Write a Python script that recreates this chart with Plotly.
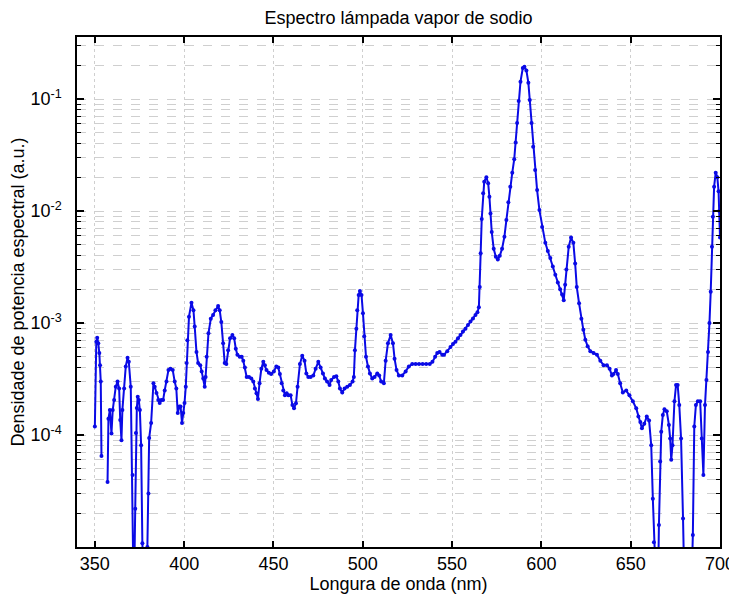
import plotly.graph_objects as go

# Wavelength (nm) and spectral power density (a.u.)
wavelength = [
    350.0, 350.8, 351.3, 351.9, 352.5, 352.9, 353.3, 353.7, 355.0, 357.1,
    357.6, 358.4, 359.3, 360.0, 360.8, 361.7, 362.7, 363.6, 364.2, 364.9,
    365.4, 366.4, 367.3, 368.3, 369.0, 370.1, 371.1, 371.8, 372.6, 373.0,
    373.5, 374.0, 374.6, 375.2, 375.9, 376.6, 377.5, 378.5, 379.4, 380.0,
    380.4, 381.5, 382.8, 383.5, 384.5, 385.5, 386.3, 387.2, 388.2, 389.1,
    390.1, 391.2, 392.3, 393.6, 394.7, 395.6, 396.4, 397.3, 398.0, 398.8,
    399.5, 400.2, 400.9, 401.4, 401.8, 402.7, 404.1, 405.2, 405.9, 406.9,
    407.8, 409.0, 409.8, 410.7, 411.5, 412.0, 412.6, 413.6, 414.9, 416.2,
    417.5, 419.0, 419.9, 420.8, 421.8, 422.7, 423.6, 424.6, 425.7, 427.0,
    428.0, 428.9, 429.8, 431.1, 432.2, 433.1, 434.0, 435.0, 436.3, 437.6,
    438.7, 439.6, 440.5, 441.3, 442.2, 443.2, 444.3, 445.2, 446.1, 447.4,
    448.7, 450.2, 451.6, 452.7, 453.6, 454.6, 455.5, 456.4, 457.4, 458.3,
    459.6, 460.6, 461.5, 462.6, 463.5, 464.8, 466.1, 467.4, 468.4, 469.5,
    470.8, 472.3, 473.6, 475.1, 476.4, 477.7, 478.8, 480.0, 481.4, 482.3,
    483.9, 485.2, 486.3, 487.2, 488.5, 489.8, 491.3, 492.8, 494.3, 495.0,
    495.6, 496.4, 496.9, 497.7, 498.4, 499.3, 500.1, 500.8, 501.8, 502.9,
    504.0, 505.3, 506.6, 508.1, 509.2, 510.3, 511.8, 512.8, 514.1, 515.6,
    516.9, 517.8, 518.9, 520.2, 522.1, 524.0, 525.8, 527.7, 529.6, 531.5,
    533.5, 535.5, 537.5, 539.0, 540.5, 541.7, 543.0, 544.5, 545.5, 547.3,
    549.1, 550.5, 551.9, 553.3, 554.7, 556.1, 557.5, 558.9, 560.3, 561.7,
    563.1, 564.2, 565.0, 565.5, 566.0, 566.6, 567.4, 568.0, 569.2, 570.2,
    570.9, 571.5, 572.2, 573.3, 574.5, 575.6, 576.7, 578.0, 579.3, 580.4,
    581.5, 582.6, 583.7, 584.8, 585.6, 586.4, 587.3, 588.3, 589.6, 590.5,
    591.6, 592.7, 593.5, 594.5, 595.4, 596.5, 597.6, 598.9, 600.4, 602.2,
    603.6, 605.0, 606.4, 607.8, 609.2, 610.5, 611.6, 612.5, 613.3, 614.0,
    615.3, 616.6, 617.9, 618.9, 619.8, 621.1, 622.4, 623.5, 624.6, 625.9,
    627.4, 629.2, 631.1, 633.0, 634.8, 636.7, 638.2, 639.5, 640.4, 641.8,
    642.8, 644.1, 645.6, 647.5, 649.3, 651.2, 653.1, 654.3, 655.4, 656.3,
    657.6, 659.0, 660.3, 661.5, 662.4, 663.0, 664.0, 665.0, 665.8, 666.5,
    667.1, 668.0, 668.9, 670.2, 671.4, 672.1, 672.7, 673.4, 674.5, 675.4,
    676.3, 677.2, 678.2, 679.3, 680.5, 682.0, 683.5, 684.8, 685.6, 686.5,
    687.6, 688.9, 689.8, 690.7, 691.6, 692.4, 693.3, 694.1, 694.8, 695.5,
    696.0, 696.7, 697.6, 698.5, 699.2, 699.6, 700.0,
]

power_density = [
    1.19e-4, 6.8e-4, 7.4e-4, 6.6e-4, 5.4e-4, 4.2e-4, 3.0e-4, 6.5e-5, None, 3.8e-5,
    1.4e-4, 1.67e-4, 1.03e-4, 1.67e-4, 2.05e-4, 2.7e-4, 3.0e-4, 2.6e-4, 1.36e-4, 9.0e-5,
    1.67e-4, 2.6e-4, 4.1e-4, 4.9e-4, 4.5e-4, 2.7e-4, 4.4e-5, 3e-6, 2.2e-5, 1.04e-4,
    1.74e-4, 2.2e-4, 2.05e-4, 1.67e-4, 8.1e-5, 1.08e-5, 2e-6, 2e-6, 1.0e-5, 3.0e-5,
    9.4e-5, 1.28e-4, 2.9e-4, 2.7e-4, 2.37e-4, 2.05e-4, 1.93e-4, 2.05e-4, 2.05e-4, 2.5e-4,
    3.0e-4, 3.8e-4, 3.9e-4, 3.8e-4, 3.0e-4, 2.6e-4, 1.57e-4, 1.8e-4, 1.8e-4, 1.28e-4,
    1.57e-4, 1.93e-4, 2.7e-4, 4.4e-4, 7.0e-4, 1.14e-3, 1.52e-3, 1.3e-3, 9.3e-4, 5.5e-4,
    4.4e-4, 4.2e-4, 3.7e-4, 3.2e-4, 2.7e-4, 3.3e-4, 5.0e-4, 8.1e-4, 1.09e-3, 1.18e-3,
    1.3e-3, 1.42e-3, 1.3e-3, 1.02e-3, 6.6e-4, 4.4e-4, 4.3e-4, 5.7e-4, 7.3e-4, 7.8e-4,
    7.3e-4, 5.9e-4, 5.2e-4, 5.0e-4, 5.0e-4, 4.6e-4, 4.0e-4, 3.3e-4, 3.3e-4, 3.2e-4,
    3.0e-4, 2.6e-4, 2.36e-4, 2.1e-4, 2.9e-4, 3.9e-4, 4.5e-4, 4.2e-4, 3.8e-4, 3.6e-4,
    3.5e-4, 3.7e-4, 4.1e-4, 4.0e-4, 3.5e-4, 2.9e-4, 2.5e-4, 2.27e-4, 2.36e-4, 2.27e-4,
    2.27e-4, 1.85e-4, 1.73e-4, 1.92e-4, 2.7e-4, 4.3e-4, 5.1e-4, 4.6e-4, 3.55e-4, 3.3e-4,
    3.3e-4, 3.4e-4, 3.9e-4, 4.5e-4, 4.0e-4, 3.55e-4, 3.2e-4, 3.0e-4, 2.8e-4, 3.1e-4,
    3.3e-4, 3.35e-4, 3.0e-4, 2.6e-4, 2.4e-4, 2.6e-4, 2.7e-4, 2.8e-4, 3.0e-4, 3.3e-4,
    5.7e-4, 8.9e-4, 1.3e-3, 1.78e-3, 1.93e-3, 1.78e-3, 1.22e-3, 7.6e-4, 5.0e-4, 4.1e-4,
    3.55e-4, 3.2e-4, 3.3e-4, 3.55e-4, 3.4e-4, 3.0e-4, 2.9e-4, 4.6e-4, 6.6e-4, 7.8e-4,
    6.6e-4, 4.8e-4, 3.8e-4, 3.4e-4, 3.4e-4, 3.7e-4, 4.1e-4, 4.3e-4, 4.3e-4, 4.3e-4,
    4.3e-4, 4.3e-4, 4.3e-4, 4.5e-4, 5.0e-4, 5.4e-4, 5.5e-4, 5.2e-4, 5.2e-4, 5.6e-4,
    6.1e-4, 6.5e-4, 6.8e-4, 7.3e-4, 7.8e-4, 8.4e-4, 8.9e-4, 9.6e-4, 1.03e-3, 1.1e-3,
    1.18e-3, 1.25e-3, 1.38e-3, 2.1e-3, 4.2e-3, 8.5e-3, 1.44e-2, 1.83e-2, 2.0e-2, 1.77e-2,
    1.34e-2, 9.5e-3, 6.5e-3, 4.6e-3, 3.9e-3, 3.7e-3, 3.98e-3, 4.6e-3, 5.9e-3, 8.3e-3,
    1.2e-2, 1.65e-2, 2.2e-2, 2.9e-2, 4.1e-2, 6.1e-2, 9.6e-2, 0.143, 0.189, 0.194,
    0.18, 0.14, 0.098, 0.061, 0.0375, 0.0232, 0.0154, 0.0102, 7.2e-3, 5.2e-3,
    4.4e-3, 3.8e-3, 3.2e-3, 2.7e-3, 2.3e-3, 2.0e-3, 1.8e-3, 1.6e-3, 2.2e-3, 3.0e-3,
    4.8e-3, 5.8e-3, 5.2e-3, 3.4e-3, 2.1e-3, 1.5e-3, 1.09e-3, 8.7e-4, 7.1e-4, 6.2e-4,
    5.6e-4, 5.4e-4, 5.2e-4, 4.6e-4, 4.2e-4, 4.2e-4, 3.9e-4, 3.4e-4, 3.5e-4, 3.8e-4,
    3.5e-4, 2.9e-4, 2.4e-4, 2.5e-4, 2.27e-4, 2.0e-4, 1.73e-4, 1.46e-4, 1.31e-4, 1.15e-4,
    1.26e-4, 1.46e-4, 1.35e-4, 8.1e-5, 2.7e-5, 1.1e-5, 2e-6, 2e-6, 1.57e-5, 5.8e-5,
    1.07e-4, 1.51e-4, 1.7e-4, 1.63e-4, 1.23e-4, 9.3e-5, 6.0e-5, 8.1e-5, 2.0e-4, 2.8e-4,
    2.8e-4, 1.85e-4, 9.3e-5, 1.8e-5, 2e-6, 2e-6, 2e-6, 1.28e-5, 1.19e-4, 1.85e-4,
    2.0e-4, 2.0e-4, 9.3e-5, 4.4e-5, 1.85e-4, 3.1e-4, 5.5e-4, 1.0e-3, 1.9e-3, 4.8e-3,
    8.9e-3, 1.65e-2, 2.2e-2, 2.0e-2, 1.5e-2, 1.0e-2, 5.8e-3,
]

x_ticks = [350, 400, 450, 500, 550, 600, 650, 700]
y_major = [1e-5, 1e-4, 1e-3, 1e-2, 1e-1]
y_major_text = ["", "10<sup>-4</sup>", "10<sup>-3</sup>", "10<sup>-2</sup>", "10<sup>-1</sup>"]
y_minor = [m * d for d in [1e-5, 1e-4, 1e-3, 1e-2, 1e-1] for m in range(2, 10)]

title_text = "Espectro lámpada vapor de sodio"
x_title = "Longura de onda (nm)"
y_title = "Densidade de potencia espectral (a.u.)"

FONT = "Liberation Sans, Arial, sans-serif"
BLUE = "#0a0ae6"
GRID = "#cfcfcf"

fig = go.Figure()
fig.add_trace(go.Scatter(
    x=wavelength, y=power_density, mode="lines+markers",
    line=dict(color=BLUE, width=2),
    marker=dict(color=BLUE, size=4),
    connectgaps=False, showlegend=False,
))

# the page body adds an 8 px margin, so the figure is 8 px smaller each way
fig.update_layout(
    width=729, height=587,
    margin=dict(l=69, r=17, t=29, b=48, autoexpand=False),
    paper_bgcolor="white", plot_bgcolor="white",
    font=dict(family=FONT, color="black", size=18),
    title=dict(text=title_text, x=0.5357, xref="container", xanchor="center",
               y=0.984, yanchor="middle", yref="container",
               font=dict(size=18)),
)

fig.update_xaxes(
    range=[340, 700], tickvals=x_ticks, ticks="inside", ticklen=6,
    tickwidth=1.5, tickcolor="black", automargin=False,
    ticklabeloverflow="allow",
    showline=True, linecolor="black", linewidth=1.5, mirror="ticks",
    showgrid=True, gridcolor=GRID, gridwidth=1, griddash="dot",
    zeroline=False,
    title=dict(text=x_title, standoff=2, font=dict(size=18)),
    tickfont=dict(size=18),
)

fig.update_yaxes(
    type="log", range=[-5, -0.446], automargin=False,
    tickvals=y_major, ticktext=y_major_text,
    ticks="inside", ticklen=7, tickwidth=1.5, tickcolor="black",
    showline=True, linecolor="black", linewidth=1.5, mirror="ticks",
    showgrid=True, gridcolor=GRID, gridwidth=1, griddash="dash",
    zeroline=False,
    minor=dict(tickvals=y_minor, ticks="inside", ticklen=4, tickwidth=1,
               tickcolor="black", showgrid=True, gridcolor=GRID,
               gridwidth=1, griddash="dash"),
    title=dict(text=y_title, standoff=1, font=dict(size=18)),
    tickfont=dict(size=18),
    ticklabelstandoff=10,
)

fig.write_html("out.html")
